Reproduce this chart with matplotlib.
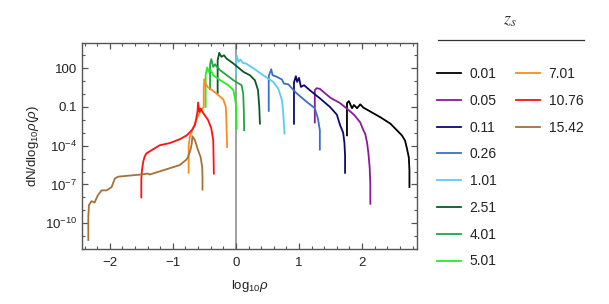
import matplotlib
matplotlib.use('Agg')
import matplotlib.pyplot as plt
import numpy as np
from matplotlib.lines import Line2D
from matplotlib.ticker import FixedLocator, NullFormatter, MultipleLocator

plt.rcParams['font.family'] = ['Liberation Sans', 'DejaVu Sans']
plt.rcParams['mathtext.fontset'] = 'custom'
plt.rcParams['mathtext.rm'] = 'Liberation Sans'
plt.rcParams['mathtext.it'] = 'Liberation Sans:italic'

# redshift labels and line colours
z_labels = ['0.01', '0.05', '0.11', '0.26', '1.01', '2.51', '4.01', '5.01',
            '7.01', '10.76', '15.42']
z_colors = ['#000000', '#8a1a99', '#0b0b6e', '#3a6fc9', '#5ccbf2', '#0b5a24',
            '#25a444', '#22f022', '#ff8a1c', '#ff1111', '#a5713a']

# curves: log10(rho) and log10(dN/dlog10 rho)
x_001 = [1.76, 1.76, 1.79, 1.84, 1.87, 1.92, 1.97, 2.02, 2.29, 2.45, 2.55, 2.63, 2.68, 2.71, 2.74, 2.75, 2.75]
y_001 = [-3.2, -0.7, -0.55, -1.1, -0.85, -1.1, -0.8, -1.05, -1.8, -2.3, -2.8, -3.2, -3.6, -4.2, -4.9, -5.9, -7.2]

x_005 = [1.25, 1.25, 1.28, 1.33, 1.50, 1.65, 1.80, 1.88, 1.97, 2.02, 2.05, 2.08, 2.10, 2.12, 2.13, 2.13]
y_005 = [-2.2, 0.3, 0.45, 0.4, -0.3, -0.7, -1.3, -1.65, -2.2, -2.8, -3.1, -3.8, -4.6, -5.7, -7.0, -8.5]

x_011 = [0.92, 0.92, 0.95, 0.97, 1.00, 1.03, 1.08, 1.17, 1.33, 1.49, 1.60, 1.65, 1.70, 1.72, 1.73, 1.73]
y_011 = [-2.3, 0.9, 1.38, 0.94, 1.25, 0.55, 0.68, 0.3, -0.33, -1.0, -1.6, -2.4, -3.0, -3.8, -4.8, -6.1]

x_026 = [0.52, 0.52, 0.56, 0.58, 0.65, 0.73, 0.76, 0.83, 0.96, 1.12, 1.25, 1.30, 1.33, 1.33]
y_026 = [-1.3, 1.4, 1.92, 1.46, 1.33, 1.12, 0.81, 0.75, 0.06, -0.6, -1.1, -1.9, -2.8, -4.3]

x_101 = [0.0, 0.0, 0.01, 0.04, 0.07, 0.11, 0.16, 0.28, 0.43, 0.59, 0.67, 0.73, 0.75, 0.77]
y_101 = [1.5, 2.6, 3.0, 2.49, 2.67, 2.41, 2.36, 1.98, 1.46, 0.94, 0.43, -0.48, -1.5, -3.06]

x_251 = [-0.29, -0.29, -0.265, -0.23, -0.19, -0.15, -0.04, 0.12, 0.22, 0.30, 0.35, 0.37, 0.38]
y_251 = [0.09, 2.6, 3.19, 2.88, 3.0, 2.75, 2.36, 1.71, 1.46, 1.07, 0.3, -1.0, -2.29]

x_401 = [-0.41, -0.41, -0.39, -0.36, -0.33, -0.31, -0.25, -0.04, 0.09, 0.115, 0.125, 0.13]
y_401 = [0.37, 2.3, 2.7, 2.1, 2.31, 2.15, 1.84, 1.07, 0.68, 0.04, -1.26, -2.8]

x_501 = [-0.48, -0.48, -0.455, -0.43, -0.40, -0.36, -0.25, -0.12, -0.04, -0.015, 0.005, 0.01]
y_501 = [-1.0, 1.5, 2.05, 1.71, 1.85, 1.46, 1.07, 0.68, 0.3, -0.35, -1.0, -2.68]

x_701 = [-0.75, -0.75, -0.73, -0.65, -0.60, -0.53, -0.51, -0.51, -0.50, -0.48, -0.45, -0.39, -0.31, -0.20, -0.16, -0.15, -0.14]
y_701 = [-6.1, -4.0, -3.3, -2.3, -1.65, -1.12, -1.0, 0.5, 1.15, 0.81, 0.55, 0.35, 0.04, -0.43, -1.0, -2.29, -4.1]

x_1076 = [-1.50, -1.50, -1.49, -1.47, -1.45, -1.42, -1.21, -1.05, -0.89, -0.78, -0.70, -0.65, -0.61, -0.60,
          -0.58, -0.56, -0.53, -0.44, -0.39, -0.36, -0.355, -0.35]
y_1076 = [-8.0, -6.6, -5.9, -5.26, -4.88, -4.6, -3.97, -3.8, -3.5, -3.2, -2.8, -2.4, -1.39, -0.66,
          -1.39, -1.12, -1.39, -2.03, -2.67, -3.58, -4.8, -6.16]

x_1542 = [-2.34, -2.34, -2.33, -2.29, -2.24, -2.19, -2.13, -2.05, -1.97, -1.92, -1.87, -1.52, -1.39, -1.37,
          -0.89, -0.79, -0.76, -0.72, -0.70, -0.69, -0.65, -0.60, -0.56, -0.535, -0.53, -0.53]
y_1542 = [-11.3, -9.5, -8.6, -8.3, -8.4, -7.85, -7.46, -7.46, -7.2, -6.55, -6.4, -6.24, -6.16, -6.24,
          -5.5, -5.1, -4.9, -4.3, -3.84, -3.27, -3.58, -4.36, -4.88, -5.65, -6.5, -7.4]

curves_x = [x_001, x_005, x_011, x_026, x_101, x_251, x_401, x_501, x_701, x_1076, x_1542]
curves_y = [y_001, y_005, y_011, y_026, y_101, y_251, y_401, y_501, y_701, y_1076, y_1542]

y_tick_vals = [1e2, 1e-1, 1e-4, 1e-7, 1e-10]
y_tick_labels = ['100', '0.1', r'$10^{-4}$', r'$10^{-7}$', r'$10^{-10}$']

fig = plt.figure(figsize=(6.09, 3.04), dpi=100)
ax = fig.add_axes([82/609, 1-249/304, (417-82)/609, (249-43)/304])

ax.axvline(0, color='#999999', lw=1.3, zorder=1)

handles = []
for xs, ys, c, lab in zip(curves_x, curves_y, z_colors, z_labels):
    h, = ax.plot(xs, 10.0**np.array(ys), color=c, lw=1.3, label=lab, zorder=2)
    handles.append(h)

ax.set_yscale('log')
ax.set_xlim(-2.44, 2.87)
ax.set_ylim(10**-12.0, 10**3.95)

ax.xaxis.set_major_locator(FixedLocator([-2, -1, 0, 1, 2]))
ax.xaxis.set_minor_locator(MultipleLocator(0.2))
ax.yaxis.set_major_locator(FixedLocator(y_tick_vals))
ax.set_yticklabels(y_tick_labels)
ax.yaxis.set_minor_locator(FixedLocator([10.0**k for k in range(-12, 4)]))
ax.yaxis.set_minor_formatter(NullFormatter())
ax.set_xticklabels(['\u22122', '\u22121', '0', '1', '2'])

for s in ax.spines.values():
    s.set_color('#555555')
    s.set_linewidth(1.0)
ax.tick_params(which='both', direction='in', top=True, right=True, colors='#555555',
               labelcolor='#222222', labelsize=9.5)
ax.tick_params(which='major', length=4, width=0.9)
ax.tick_params(which='minor', length=2.5, width=0.8)
ax.tick_params(axis='x', pad=6)

ax.set_xlabel(r'log$_{10}\mathit{\rho}$', fontsize=9.5, color='#222222', labelpad=6)
ax.set_ylabel(r'dN/dlog$_{10}\mathit{\rho}(\mathit{\rho})$', fontsize=9.5, color='#222222', labelpad=3)

# legend: title, rule, then two columns
fig.text(510/609, 1-20/304, r'$z_s$', fontsize=13, ha='center', va='center',
         math_fontfamily='stix', color='#333333')
fig.add_artist(Line2D([438/609, 584/609], [1-40/304, 1-40/304], color='#333333', lw=0.9))

leg_kw = dict(frameon=False, fontsize=10, handlelength=1.75, handletextpad=0.6,
              labelspacing=0.92, borderpad=0, borderaxespad=0, loc='upper left')
leg1 = fig.legend(handles[:8], z_labels[:8], bbox_to_anchor=(437/609, 1-67/304), **leg_kw)
leg2 = fig.legend(handles[8:], z_labels[8:], bbox_to_anchor=(516/609, 1-67/304), **leg_kw)
for leg in (leg1, leg2):
    for t in leg.get_texts():
        t.set_color('#222222')

plt.savefig('out.png', dpi=100)
